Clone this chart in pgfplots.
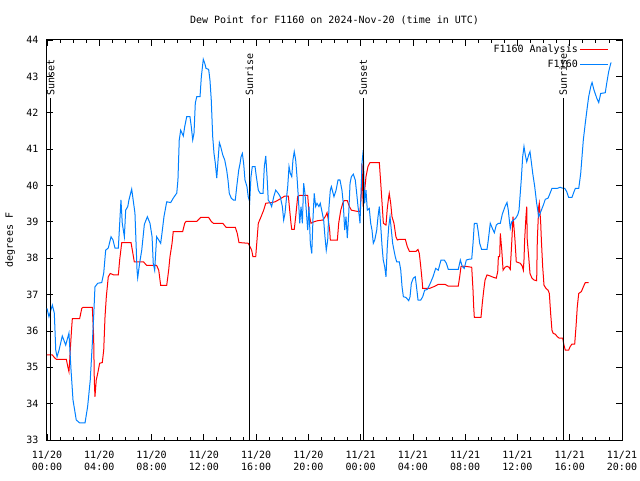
\documentclass[border=0pt]{standalone}
\usepackage{fontspec}
\setmainfont{DejaVu Sans Mono}
\usepackage{pgfplots}
\pgfplotsset{compat=1.18}
\definecolor{anared}{RGB}{255,0,0}
\definecolor{obsblue}{RGB}{0,128,255}
\begin{document}
\fontsize{10}{12}\selectfont
\begin{tikzpicture}
\useasboundingbox (-47pt,-40pt) rectangle (593pt,440pt);
\begin{axis}[
  at={(0pt,0pt)}, anchor=south west,
  scale only axis, width=575pt, height=400pt,
  xmin=0, xmax=44, ymin=33, ymax=44,
  xtick={0,4,...,44},
  xticklabels={{11/20\\00:00},{11/20\\04:00},{11/20\\08:00},{11/20\\12:00},{11/20\\16:00},{11/20\\20:00},{11/21\\00:00},{11/21\\04:00},{11/21\\08:00},{11/21\\12:00},{11/21\\16:00},{11/21\\20:00}},
  minor x tick num=3,
  ytick={33,34,...,44},
  tick align=inside,
  major tick length=6pt, minor tick length=3pt,
  tick style={black, line width=0.8pt},
  axis line style={black, line width=1pt},
  xticklabel style={align=center, font=\fontsize{10}{12}\selectfont, yshift=-8pt},
  yticklabel style={font=\fontsize{10}{12}\selectfont, xshift=-5pt},
  /pgf/number format/assume math mode=true,
  xtick pos=both, ytick pos=both,
  xticklabel pos=bottom, yticklabel pos=left,
  title={Dew Point for F1160 on 2024-Nov-20 (time in UTC)},
  title style={font=\fontsize{10}{12}\selectfont, yshift=6pt},
  ylabel={degrees F},
  ylabel style={font=\fontsize{10}{12}\selectfont, at={(axis description cs:-0.0643,0.5)}, anchor=center},
  legend style={at={(rel axis cs:1,1)}, anchor=north east, draw=none, fill=none,
    font=\fontsize{10}{12}\selectfont, legend cell align=right, row sep=-2pt,
    nodes={inner ysep=4.05pt},
    xshift=-10pt, yshift=1pt},
  legend plot pos=right,
  legend image code/.code={\draw[#1] (0pt,0pt) -- (28pt,0pt);},
  clip=false,
]
\addplot[color=anared, line width=1pt] coordinates {
(0,35.34)(0.41,35.34)(0.56,35.27)(0.71,35.22)(1.48,35.22)(1.59,35.02)(1.68,34.88)(1.74,35.2)(1.78,35.47)(1.89,36.1)(1.94,36.34)(2.50,36.34)(2.66,36.62)(2.76,36.65)(3.47,36.65)(3.57,35.84)(3.62,34.65)(3.67,34.19)(3.77,34.65)(3.88,34.83)(4.03,35.11)(4.23,35.13)(4.34,35.47)(4.44,36.39)(4.54,36.94)(4.69,37.49)(4.84,37.58)(5.10,37.54)(5.46,37.54)(5.56,37.95)(5.72,38.43)(6.43,38.43)(6.53,38.22)(6.68,37.9)(7.38,37.9)(7.63,37.8)(8.39,37.8)(8.55,37.67)(8.70,37.25)(9.16,37.25)(9.31,37.67)(9.41,38.04)(9.57,38.41)(9.66,38.73)(10.38,38.73)(10.54,38.96)(10.64,39.01)(11.46,39.01)(11.76,39.12)(12.37,39.12)(12.57,39.01)(12.73,38.96)(13.45,38.96)(13.70,38.85)(14.41,38.85)(14.56,38.68)(14.69,38.43)(15.40,38.41)(15.66,38.22)(15.76,38.04)(15.97,38.04)(16.07,38.5)(16.17,38.96)(16.38,39.14)(16.58,39.32)(16.74,39.51)(17.19,39.53)(17.45,39.55)(17.70,39.6)(18.11,39.69)(18.21,39.71)(18.47,39.71)(18.57,39.32)(18.67,38.96)(18.73,38.79)(18.92,38.79)(19.03,39.14)(19.18,39.69)(19.34,39.73)(19.95,39.73)(20.05,39.23)(20.20,38.96)(20.41,39.0)(20.71,39.03)(21.12,39.05)(21.32,39.16)(21.43,39.25)(21.53,39.05)(21.63,38.77)(21.68,38.5)(22.22,38.5)(22.32,38.96)(22.48,39.32)(22.63,39.51)(22.73,39.58)(22.98,39.58)(23.14,39.42)(23.29,39.32)(23.44,39.31)(23.70,39.29)(23.95,39.29)(24.05,39.78)(24.10,40.6)(24.16,39.87)(24.20,39.42)(24.31,39.87)(24.41,40.24)(24.56,40.52)(24.72,40.63)(25.43,40.63)(25.54,40.06)(25.64,39.51)(25.74,38.96)(25.94,38.91)(26.04,39.37)(26.15,39.69)(26.19,39.78)(26.30,39.51)(26.40,39.14)(26.55,38.96)(26.70,38.59)(26.81,38.5)(26.96,38.52)(27.42,38.52)(27.57,38.32)(27.73,38.19)(28.24,38.19)(28.39,38.24)(28.49,38.13)(28.60,37.77)(28.70,37.4)(28.75,37.17)(29.28,37.17)(29.69,37.23)(29.94,37.28)(30.46,37.28)(30.71,37.23)(31.47,37.23)(31.58,37.49)(31.68,37.77)(31.83,37.78)(32.14,37.77)(32.50,37.75)(32.60,37.12)(32.65,36.67)(32.70,36.37)(33.21,36.37)(33.31,36.76)(33.42,37.12)(33.52,37.4)(33.67,37.54)(33.92,37.51)(34.18,37.47)(34.38,37.45)(34.49,37.63)(34.54,38.04)(34.64,38.04)(34.69,38.68)(34.80,38.22)(34.90,37.67)(35.05,37.75)(35.20,37.78)(35.35,37.75)(35.45,37.69)(35.56,38.41)(35.66,39.14)(35.71,38.96)(35.81,38.5)(35.91,37.9)(36.22,37.86)(36.37,37.78)(36.45,37.67)(36.50,37.95)(36.55,38.5)(36.65,39.14)(36.71,39.42)(36.75,38.5)(36.86,38.04)(36.96,37.58)(37.11,37.45)(37.27,37.4)(37.47,37.38)(37.52,38.5)(37.63,39.42)(37.67,39.51)(37.73,39.23)(37.78,38.96)(37.83,38.5)(37.93,37.77)(38.03,37.26)(38.18,37.17)(38.34,37.12)(38.44,37.03)(38.54,36.48)(38.64,36.02)(38.74,35.93)(38.90,35.91)(39.05,35.84)(39.20,35.8)(39.46,35.8)(39.56,35.61)(39.66,35.47)(39.92,35.47)(40.02,35.56)(40.17,35.64)(40.38,35.64)(40.48,36.11)(40.58,36.67)(40.69,37.03)(40.89,37.08)(41.04,37.21)(41.19,37.33)(41.45,37.33)
};
\addlegendentry{F1160 Analysis}
\addplot[color=obsblue, line width=1pt] coordinates {
(0,36.62)(0.15,36.39)(0.41,36.71)(0.56,36.49)(0.67,35.47)(0.77,35.29)(0.92,35.47)(1.17,35.86)(1.43,35.61)(1.68,35.94)(1.84,34.92)(1.99,34.10)(2.24,33.55)(2.50,33.47)(2.91,33.47)(3.11,33.92)(3.31,34.65)(3.47,35.67)(3.57,36.39)(3.67,37.21)(3.88,37.31)(4.19,37.33)(4.34,37.59)(4.49,38.22)(4.69,38.28)(4.90,38.59)(5.05,38.5)(5.20,38.28)(5.46,38.28)(5.66,39.6)(5.76,38.96)(5.92,38.59)(6.02,39.32)(6.18,39.42)(6.27,39.6)(6.48,39.9)(6.73,39.24)(6.89,37.67)(6.94,37.46)(7.09,37.87)(7.25,38.22)(7.45,38.93)(7.68,39.14)(7.88,38.96)(8.04,38.59)(8.13,37.86)(8.24,37.67)(8.39,38.59)(8.55,38.5)(8.70,38.41)(8.80,38.69)(8.95,39.14)(9.16,39.55)(9.47,39.53)(9.66,39.65)(9.93,39.79)(10.02,40.15)(10.12,41.25)(10.23,41.52)(10.33,41.44)(10.43,41.36)(10.54,41.62)(10.69,41.89)(10.94,41.89)(11.04,41.62)(11.15,41.25)(11.25,41.44)(11.35,42.27)(11.46,42.44)(11.71,42.44)(11.81,42.99)(11.91,43.31)(11.96,43.47)(12.07,43.36)(12.17,43.22)(12.37,43.19)(12.47,42.9)(12.57,42.35)(12.68,41.34)(12.78,40.88)(12.88,40.61)(12.99,40.2)(13.09,40.7)(13.19,41.18)(13.29,41.07)(13.45,40.84)(13.60,40.7)(13.75,40.42)(13.85,40.15)(13.95,39.78)(14.10,39.65)(14.26,39.6)(14.41,39.6)(14.52,39.97)(14.67,40.42)(14.77,40.6)(14.85,40.79)(14.95,40.88)(15.05,40.6)(15.15,40.15)(15.30,39.97)(15.40,39.69)(15.51,39.55)(15.61,40.24)(15.71,40.52)(15.92,40.52)(16.02,40.24)(16.17,39.87)(16.32,39.78)(16.53,39.78)(16.63,40.52)(16.74,40.81)(16.84,40.24)(16.93,39.6)(17.09,39.51)(17.19,39.42)(17.35,39.69)(17.50,39.87)(17.70,39.78)(17.85,39.69)(18.01,39.42)(18.11,39.05)(18.21,39.23)(18.31,39.6)(18.42,39.97)(18.52,40.52)(18.62,40.33)(18.73,40.24)(18.82,40.7)(18.92,40.93)(19.03,40.7)(19.13,40.24)(19.23,39.69)(19.34,38.96)(19.44,39.42)(19.54,38.96)(19.64,40.06)(19.74,39.78)(19.84,39.32)(19.95,38.77)(20.05,39.42)(20.15,38.41)(20.26,38.13)(20.36,39.14)(20.45,39.78)(20.56,39.42)(20.66,39.51)(20.81,39.42)(20.91,39.51)(21.02,39.32)(21.17,39.05)(21.27,38.59)(21.37,38.22)(21.48,38.5)(21.58,39.42)(21.68,39.87)(21.76,39.97)(21.96,39.69)(22.12,39.87)(22.27,40.15)(22.42,40.15)(22.57,39.87)(22.67,39.51)(22.78,38.77)(22.88,39.14)(22.98,38.55)(23.09,39.23)(23.19,40.06)(23.29,40.24)(23.44,40.31)(23.59,40.15)(23.70,39.78)(23.80,39.42)(23.90,39.14)(23.95,38.96)(24.05,39.97)(24.10,40.6)(24.20,40.97)(24.26,40.06)(24.31,39.51)(24.41,39.87)(24.51,39.32)(24.66,39.37)(24.77,38.96)(24.87,38.77)(24.97,38.41)(25.08,38.5)(25.23,38.77)(25.33,39.14)(25.43,39.42)(25.54,38.87)(25.64,38.32)(25.73,37.95)(25.84,37.77)(25.94,37.49)(26.04,38.32)(26.15,38.87)(26.25,39.14)(26.35,38.77)(26.45,38.41)(26.55,38.22)(26.65,38.04)(26.76,37.9)(26.96,37.9)(27.07,37.67)(27.17,37.21)(27.27,36.94)(27.47,36.92)(27.68,36.83)(27.78,36.94)(27.88,37.31)(28.03,37.45)(28.18,37.49)(28.29,37.17)(28.39,36.85)(28.60,36.85)(28.75,36.94)(28.90,37.12)(29.10,37.14)(29.33,37.31)(29.54,37.49)(29.74,37.72)(29.94,37.67)(30.15,37.95)(30.40,37.95)(30.56,37.86)(30.71,37.69)(31.47,37.69)(31.63,37.95)(31.78,37.77)(31.93,37.72)(32.09,37.95)(32.29,37.97)(32.50,37.98)(32.60,38.41)(32.70,38.96)(32.90,38.96)(33.00,38.73)(33.11,38.41)(33.26,38.24)(33.67,38.24)(33.77,38.5)(33.92,38.96)(34.08,38.82)(34.23,38.7)(34.38,38.91)(34.54,38.96)(34.69,38.96)(34.84,39.21)(35.05,39.42)(35.20,39.53)(35.30,39.32)(35.35,39.14)(35.45,38.82)(35.56,39.0)(35.71,39.05)(35.87,39.1)(36.02,39.19)(36.12,39.32)(36.29,40.15)(36.40,40.79)(36.50,41.07)(36.60,40.84)(36.71,40.65)(36.86,40.84)(36.96,40.93)(37.06,40.65)(37.17,40.33)(37.32,39.97)(37.47,39.51)(37.63,39.14)(37.73,39.23)(37.83,39.32)(37.98,39.46)(38.13,39.62)(38.34,39.65)(38.49,39.78)(38.64,39.92)(39.05,39.92)(39.26,39.95)(39.41,39.93)(39.62,39.92)(39.77,39.83)(39.92,39.67)(40.17,39.67)(40.33,39.83)(40.43,39.92)(40.69,39.92)(40.84,40.33)(40.94,40.79)(41.04,41.25)(41.19,41.71)(41.35,42.17)(41.45,42.44)(41.61,42.72)(41.71,42.83)(41.86,42.62)(42.07,42.4)(42.22,42.28)(42.37,42.53)(42.72,42.55)(42.83,42.81)(42.98,43.13)(43.14,43.36)(43.18,43.38)
};
\addlegendentry{F1160}
\addplot[black, line width=1pt, forget plot] coordinates {(0.28,33)(0.28,42.4)};
\addplot[black, line width=1pt, forget plot] coordinates {(15.48,33)(15.48,42.4)};
\addplot[black, line width=1pt, forget plot] coordinates {(24.2,33)(24.2,42.4)};
\addplot[black, line width=1pt, forget plot] coordinates {(39.5,33)(39.5,42.4)};
\node[rotate=90, anchor=west, inner sep=1pt, font=\fontsize{10}{12}\selectfont] at (axis cs:0.28,42.45) {Sunset};
\node[rotate=90, anchor=west, inner sep=1pt, font=\fontsize{10}{12}\selectfont] at (axis cs:15.48,42.45) {Sunrise};
\node[rotate=90, anchor=west, inner sep=1pt, font=\fontsize{10}{12}\selectfont] at (axis cs:24.2,42.45) {Sunset};
\node[rotate=90, anchor=west, inner sep=1pt, font=\fontsize{10}{12}\selectfont] at (axis cs:39.5,42.45) {Sunrise};
\end{axis}
\end{tikzpicture}
\end{document}
